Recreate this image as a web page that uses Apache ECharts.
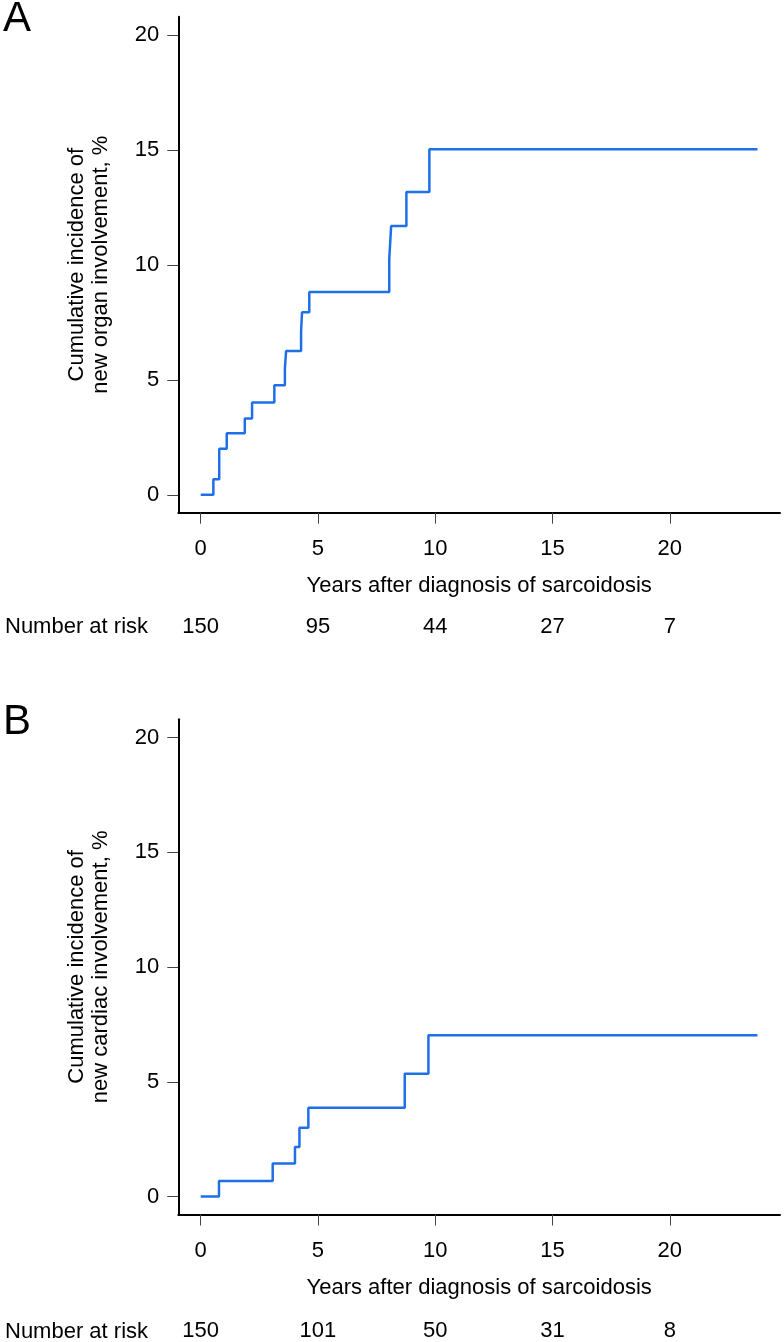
<!DOCTYPE html>
<html><head><meta charset="utf-8">
<script src="https://cdn.jsdelivr.net/npm/echarts@6.0.0/dist/echarts.min.js"></script>
<style>html,body{margin:0;padding:0;background:#fff}#c{width:784px;height:1342px}</style>
</head><body><div id="c"></div>
<script>
// ---- data ----
const xTicks = [0, 5, 10, 15, 20];
const yTicks = [0, 5, 10, 15, 20];

const timesA = [0, 0.54, 0.79, 1.11, 1.88, 2.19, 3.14, 3.59, 3.64, 4.28, 4.32, 4.63, 8.04, 8.12, 8.77, 9.75, 23.74];
const incidenceA = [0, 0.67, 2.0, 2.68, 3.32, 4.02, 4.77, 5.5, 6.25, 7.09, 7.94, 8.82, 10.27, 11.69, 13.17, 15.03, 15.03];
const atRiskA = [150, 95, 44, 27, 7];

const timesB = [0, 0.78, 3.07, 4.02, 4.21, 4.59, 8.7, 9.71, 23.74];
const incidenceB = [0, 0.68, 1.44, 2.16, 3.0, 3.87, 5.35, 7.03, 7.03];
const atRiskB = [150, 101, 50, 31, 8];

const xTitle = 'Years after diagnosis of sarcoidosis';
const yTitleA = 'Cumulative incidence of\nnew organ involvement, %';
const yTitleB = 'Cumulative incidence of\nnew cardiac involvement, %';
const panelLabels = ['A', 'B'];
const riskLabel = 'Number at risk';

// ---- layout / style ----
const FONT = "'Liberation Sans', Arial, Helvetica, sans-serif";
const FS = 22;
const X_MIN = -0.955, X_MAX = 24.7;
const Y_MIN = -0.78, Y_MAX = 20.8;
const LINE_COLOR = '#1f6fe6';
const grids = [
  { left: 178.3, right: 4, top: 16.7, height: 496 },
  { left: 178.3, right: 4, top: 719.3, height: 495.7 }
];

function mainX(gi) {
  return {
    type: 'value', gridIndex: gi, position: 'bottom', min: X_MIN, max: X_MAX,
    axisLine: { show: true, onZero: false, lineStyle: { color: '#000', width: 2 } },
    axisTick: { show: true, customValues: xTicks, length: 11, lineStyle: { color: '#444', width: 1 } },
    axisLabel: { customValues: xTicks, fontSize: FS, fontFamily: FONT, color: '#000', margin: 36, verticalAlign: 'middle' },
    splitLine: { show: false },
    name: xTitle, nameLocation: 'middle', nameGap: 62,
    nameTextStyle: { fontSize: FS, fontFamily: FONT, color: '#000' }
  };
}
function riskX(gi, risk, margin) {
  return {
    type: 'value', gridIndex: gi, position: 'bottom', min: X_MIN, max: X_MAX,
    axisLine: { show: false }, axisTick: { show: false }, splitLine: { show: false },
    axisLabel: {
      customValues: xTicks, fontSize: FS, fontFamily: FONT, color: '#000', margin: margin, verticalAlign: 'middle',
      formatter: v => String(risk[xTicks.indexOf(v)])
    }
  };
}
function mainY(gi, title) {
  return {
    type: 'value', gridIndex: gi, position: 'left', min: Y_MIN, max: Y_MAX,
    axisLine: { show: true, onZero: false, lineStyle: { color: '#000', width: 2 } },
    axisTick: { show: true, customValues: yTicks, length: 11, lineStyle: { color: '#444', width: 1 } },
    axisLabel: { customValues: yTicks, fontSize: FS, fontFamily: FONT, color: '#000', margin: 19 },
    splitLine: { show: false },
    name: title, nameLocation: 'middle', nameGap: 65, nameRotate: 90,
    nameTextStyle: { fontSize: FS, fontFamily: FONT, color: '#000', lineHeight: 24, align: 'center' }
  };
}
function stepSeries(xi, times, vals) {
  return {
    type: 'line', xAxisIndex: xi, yAxisIndex: xi, step: 'end',
    showSymbol: false, symbol: 'none', animation: false,
    lineStyle: { color: LINE_COLOR, width: 2.5 },
    data: times.map((t, i) => [t, vals[i]])
  };
}

const chart = echarts.init(document.getElementById('c'), null, { renderer: 'canvas' });
chart.setOption({
  animation: false,
  backgroundColor: '#fff',
  grid: grids,
  xAxis: [mainX(0), mainX(1), riskX(0, atRiskA, 114), riskX(1, atRiskB, 116.5)],
  yAxis: [mainY(0, yTitleA), mainY(1, yTitleB)],
  series: [stepSeries(0, timesA, incidenceA), stepSeries(1, timesB, incidenceB)],
  graphic: [
    { type: 'text', left: 3, top: -2, style: { text: panelLabels[0], font: '42px ' + FONT, fill: '#000' } },
    { type: 'text', left: 3, top: 701, style: { text: panelLabels[1], font: '42px ' + FONT, fill: '#000' } },
    { type: 'text', left: 5, top: 615.5, style: { text: riskLabel, font: FS + 'px ' + FONT, fill: '#000' } },
    { type: 'text', left: 5, top: 1320.5, style: { text: riskLabel, font: FS + 'px ' + FONT, fill: '#000' } }
  ]
});
</script></body></html>
